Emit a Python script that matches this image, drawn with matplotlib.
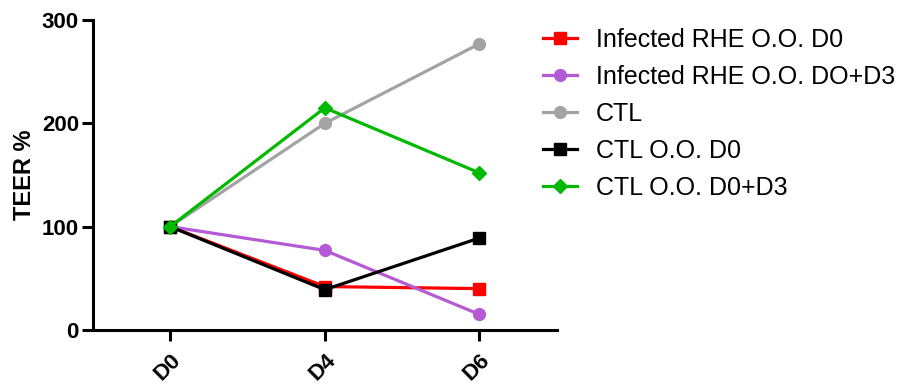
import matplotlib
matplotlib.use("Agg")
import matplotlib.pyplot as plt

plt.rcParams['font.family'] = ['Liberation Sans', 'DejaVu Sans']

days = ["D0", "D4", "D6"]
labels = ["Infected RHE O.O. D0", "Infected RHE O.O. DO+D3", "CTL",
          "CTL O.O. D0", "CTL O.O. D0+D3"]
inf_d0 = [100, 42, 40]
inf_d0d3 = [100, 77, 15]
ctl = [100, 200, 277]
ctl_d0 = [100, 39, 89]
ctl_d0d3 = [100, 215, 152]
series = [inf_d0, inf_d0d3, ctl, ctl_d0, ctl_d0d3]
colors = ["#ff0000", "#b45ad4", "#a3a3a6", "#000000", "#00b900"]
markers = ["s", "o", "o", "s", "D"]
msizes = [8.5, 8.5, 8.5, 8.5, 7.5]

fig = plt.figure(figsize=(9.01, 3.85), dpi=100)
ax = fig.add_axes([0.103, 0.143, 0.515, 0.805])
x = list(range(len(days)))
handles = []
for s, lab, c, m, ms in zip(series, labels, colors, markers, msizes):
    h, = ax.plot(x, s, color=c, marker=m, markersize=ms, linewidth=2.3,
                 label=lab, clip_on=False)
    handles.append(h)

ax.set_xlim(-0.5, 2.5)
ax.set_ylim(0, 300)
ax.set_yticks([0, 100, 200, 300])
ax.set_xticks(x)
ax.set_xticklabels(days, rotation=45, ha='right', rotation_mode='anchor',
                   fontsize=16, fontweight='bold')
for t in ax.get_yticklabels():
    t.set_fontsize(16)
    t.set_fontweight('bold')
ax.set_ylabel("TEER %", fontsize=17, fontweight='bold', labelpad=4)
for sp in ['top', 'right']:
    ax.spines[sp].set_visible(False)
for sp in ['left', 'bottom']:
    ax.spines[sp].set_linewidth(2.2)
ax.tick_params(axis='both', width=2.2, length=8, pad=2)
ax.tick_params(axis='x', pad=6)

fig.legend(handles=handles, loc='upper left', bbox_to_anchor=(543 / 901, 0.928),
           frameon=False, fontsize=18, labelspacing=0.52, handlelength=1.35,
           handletextpad=0.75, borderaxespad=0, borderpad=0)

fig.savefig("out.png", dpi=100)
